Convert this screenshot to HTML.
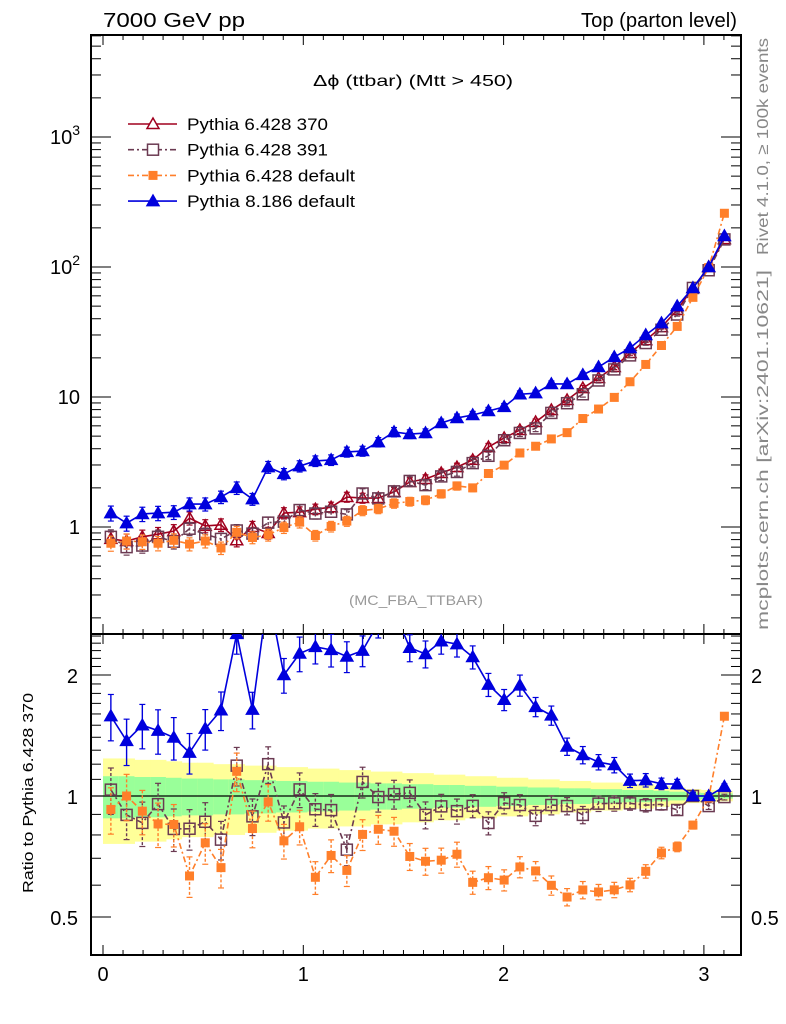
<!DOCTYPE html>
<html><head><meta charset="utf-8"><style>
html,body{margin:0;padding:0;background:#fff;}
svg{display:block;font-family:"Liberation Sans",sans-serif;}
</style></head><body>
<svg id="chart" width="786" height="1024" viewBox="0 0 786 1024" xmlns="http://www.w3.org/2000/svg">
<text x="103" y="27" font-size="20" textLength="142" lengthAdjust="spacingAndGlyphs">7000 GeV pp</text>
<text x="581" y="27" font-size="20" textLength="156" lengthAdjust="spacingAndGlyphs">Top (parton level)</text>
<text x="313" y="86" font-size="16" textLength="200" lengthAdjust="spacingAndGlyphs">Δϕ (ttbar) (Mtt &gt; 450)</text>
<text x="349" y="605" font-size="14" fill="#999" textLength="134" lengthAdjust="spacingAndGlyphs">(MC_FBA_TTBAR)</text>
<text transform="translate(768,255) rotate(-90)" font-size="16" fill="#888" textLength="217" lengthAdjust="spacingAndGlyphs">Rivet 4.1.0, ≥ 100k events</text>
<text transform="translate(768,630) rotate(-90)" font-size="16" fill="#888" textLength="360" lengthAdjust="spacingAndGlyphs">mcplots.cern.ch [arXiv:2401.10621]</text>
<text transform="translate(33,893) rotate(-90)" font-size="15" textLength="200" lengthAdjust="spacingAndGlyphs">Ratio to Pythia 6.428 370</text>
<g id="band"></g>
<g id="axes"></g>
<g id="series"></g>
<g id="legend"></g>
</svg>
<script>
const xCenters = [];
const nBins = 40;
const red = [0.81,0.78,0.84,0.88,0.93,1.17,1.02,1.04,0.79,1.0,0.90,1.28,1.30,1.37,1.42,1.70,1.67,1.67,1.86,2.22,2.34,2.60,2.89,3.28,4.12,4.84,5.57,6.42,7.94,9.49,11.7,14.0,17.0,21.8,27.4,34.5,46.7,69,100,164];
const purple = [0.84,0.70,0.72,0.84,0.77,0.97,0.88,0.81,0.94,0.89,1.08,1.10,1.35,1.27,1.31,1.25,1.81,1.66,1.88,2.26,2.10,2.45,2.65,3.10,3.53,4.65,5.29,5.73,7.54,8.96,10.5,13.4,16.3,20.9,26.0,32.9,43.1,69,94.4,163];
const orange = [0.75,0.78,0.77,0.75,0.79,0.74,0.78,0.69,0.91,0.83,0.87,0.99,1.09,0.86,1.01,1.11,1.34,1.38,1.52,1.57,1.61,1.80,2.07,2.0,2.58,2.99,3.71,4.18,4.76,5.32,6.83,8.08,9.93,13.1,17.8,24.9,34.9,58.4,98.9,259];
const blue = [1.28,1.07,1.26,1.28,1.30,1.50,1.50,1.70,2.0,1.64,2.89,2.56,2.94,3.22,3.28,3.78,3.84,4.5,5.38,5.19,5.28,6.31,6.9,7.27,7.8,8.4,10.5,10.7,12.6,12.6,14.8,17.0,20.3,23.8,30,37,50,69,100,173];
const relErr = [0.24,0.24,0.23,0.23,0.22,0.21,0.21,0.2,0.2,0.19,0.19,0.18,0.18,0.17,0.17,0.16,0.16,0.15,0.15,0.14,0.14,0.13,0.13,0.12,0.12,0.11,0.11,0.10,0.10,0.09,0.09,0.08,0.08,0.07,0.07,0.06,0.05,0.04,0.035,0.03];
const xTicks = [0,1,2,3];
const mainTicks = [1,10,100,1000];
const mainTickLabels = ["1","10","10²","10³"];
const ratioTicks = [0.5,1,2];
const ratioTickLabels = ["0.5","1","2"];

const NS="http://www.w3.org/2000/svg";
const L=91,R=741,T=35,MID=634,B=955;
const X = v => 103 + v*200.3;
const Y = v => 527 - Math.log10(v)*130;
const YR = r => 796 - Math.log2(r)*121;
function mk(tag, attrs, parent){const e=document.createElementNS(NS,tag);for(const k in attrs)e.setAttribute(k,attrs[k]);parent.appendChild(e);return e;}
const binW = Math.PI/nBins;
for(let i=0;i<nBins;i++) xCenters.push((i+0.5)*binW);

// band
const band=document.getElementById('band');
for(let i=0;i<nBins;i++){
  const x0=Math.max(X(i*binW),L+1), x1=Math.min(X((i+1)*binW),R-1);
  const e=relErr[i];
  const y=mk('rect',{x:x0,y:YR(1+e),width:x1-x0+0.5,height:YR(1-e)-YR(1+e),fill:'#ffff99'},band);
  
  
  const g=mk('rect',{x:x0,y:YR(1+e/2),width:x1-x0+0.5,height:YR(1-e/2)-YR(1+e/2),fill:'#99ff99'},band);
  
  
}

// axes
const ax=document.getElementById('axes');
mk('line',{x1:L,y1:YR(1),x2:R,y2:YR(1),stroke:'#000','stroke-width':1.2},ax);
for(const [y0,y1] of [[T,MID],[MID,B]]){
  const fr=mk('rect',{x:L,y:y0,width:R-L,height:y1-y0,fill:'none',stroke:'#000','stroke-width':2},ax);
  
  
  for(let k=0;k<=31;k++){
    const v=k/10, x=X(v); if(x>R) break;
    const len = (k%10===0)?10:5;
    mk('line',{x1:x,y1:y1,x2:x,y2:y1-len,stroke:'#000','stroke-width':1},ax);
    mk('line',{x1:x,y1:y0,x2:x,y2:y0+len,stroke:'#000','stroke-width':1},ax);
  }
}
xTicks.forEach(v=>{const t=mk('text',{x:X(v),y:981,'font-size':20,'text-anchor':'middle'},ax);t.textContent=v;
 
 });
for(let d=-1;d<=3;d++){for(let m=1;m<10;m++){const v=m*Math.pow(10,d);const y=Y(v);if(y<T||y>MID)continue;
 const len=m===1?20:10;
 mk('line',{x1:L,y1:y,x2:L+len,y2:y,stroke:'#000','stroke-width':1},ax);
 mk('line',{x1:R,y1:y,x2:R-len,y2:y,stroke:'#000','stroke-width':1},ax);}}
mainTicks.forEach((v,i)=>{const t=mk('text',{x:80,y:Y(v)+7,'font-size':20,'text-anchor':'end'},ax);
 const lab=mainTickLabels[i];
 if(lab.length>2&&lab.startsWith('10')){t.textContent='10';const s=mk('tspan',{dy:-9,'font-size':14},t);s.textContent=lab==='10²'?'2':'3';}
 else t.textContent=lab;
 
 });
const rMinor=[0.6,0.7,0.8,0.9,1.1,1.2,1.3,1.4,1.5,1.6,1.7,1.8,1.9,2.1,2.2,2.3,2.4,2.5];
rMinor.forEach(v=>{const y=YR(v);mk('line',{x1:L,y1:y,x2:L+10,y2:y,stroke:'#000'},ax);mk('line',{x1:R,y1:y,x2:R-10,y2:y,stroke:'#000'},ax);});
ratioTicks.forEach((v,i)=>{const y=YR(v);mk('line',{x1:L,y1:y,x2:L+20,y2:y,stroke:'#000'},ax);mk('line',{x1:R,y1:y,x2:R-20,y2:y,stroke:'#000'},ax);
 const t=mk('text',{x:78,y:y+8,'font-size':20,'text-anchor':'end'},ax);t.textContent=ratioTickLabels[i];
 
 
 const t2=mk('text',{x:751,y:y+8,'font-size':20},ax);t2.textContent=ratioTickLabels[i];
 
 });

// series
const ser=document.getElementById('series');
const defs=[
 {name:'pythia-6428-370',vals:red,color:'#a0001e',dash:'',marker:'tri-open'},
 {name:'pythia-6428-391',vals:purple,color:'#6b3a52',dash:'6,3,2,3',marker:'sq-open'},
 {name:'pythia-6428-default',vals:orange,color:'#ff7f2a',dash:'6,3,2,3',marker:'sq-fill'},
 {name:'pythia-8186-default',vals:blue,color:'#0000dd',dash:'',marker:'tri-fill'}];
function marker(p,type,x,y,c){
  if(type.startsWith('tri')) return mk('polygon',{points:`${x},${y-6} ${x-6},${y+4.5} ${x+6},${y+4.5}`,fill:type==='tri-fill'?c:'none',stroke:c,'stroke-width':1.5},p);
  if(type==='sq-open') return mk('rect',{x:x-5.5,y:y-5.5,width:11,height:11,fill:'none',stroke:c,'stroke-width':1.5},p);
  return mk('rect',{x:x-4.5,y:y-4.5,width:9,height:9,fill:c},p);
}
function clip(id,y0,y1){const cp=mk('clipPath',{id:id},ser);mk('rect',{x:L,y:y0,width:R-L,height:y1-y0},cp);}
clip('cm',T,MID);clip('cr',MID,B);
defs.forEach(d=>{
  for(const panel of ['main','ratio']){
    if(panel==='ratio'&&d.vals===red) continue;
    const g=mk('g',{'clip-path':panel==='main'?'url(#cm)':'url(#cr)'},ser);
    
    
    const pts=d.vals.map((v,i)=>{const x=X(xCenters[i]);const val=panel==='main'?v:v/red[i];return [x,panel==='main'?Y(val):YR(val),val];});
    const pl=mk('polyline',{points:pts.map(p=>p[0]+','+p[1]).join(' '),fill:'none',stroke:d.color,'stroke-width':1.6,'stroke-dasharray':d.dash},g);
    
    
    pts.forEach((p,i)=>{
      const e=relErr[i]*0.55;
      const fn=panel==='main'?Y:YR;
      const yt=fn(p[2]*(1+e)), yb=fn(p[2]*(1-e));
      mk('line',{x1:p[0],y1:yt,x2:p[0],y2:yb,stroke:d.color,'stroke-width':1.4,'stroke-dasharray':d.dash?'3,2':''},g);
      mk('line',{x1:p[0]-3,y1:yt,x2:p[0]+3,y2:yt,stroke:d.color,'stroke-width':1.2},g);
      mk('line',{x1:p[0]-3,y1:yb,x2:p[0]+3,y2:yb,stroke:d.color,'stroke-width':1.2},g);
      const m=marker(g,d.marker,p[0],p[1],d.color);
      
      
    });
  }
});

// legend
const lg=document.getElementById('legend');
const labels=['Pythia 6.428 370','Pythia 6.428 391','Pythia 6.428 default','Pythia 8.186 default'];
const lw=[141,141,168,168];
defs.forEach((d,i)=>{
  const y=124+i*25.7;
  const g=mk('g',{},lg);
  
  
  mk('line',{x1:128,y1:y,x2:177,y2:y,stroke:d.color,'stroke-width':1.6,'stroke-dasharray':d.dash},g);
  marker(g,d.marker,153,y,d.color).setAttribute('fill',d.marker.endsWith('fill')?d.color:'#fff');
  const t=mk('text',{x:187,y:y+6,'font-size':17,textLength:lw[i],lengthAdjust:'spacingAndGlyphs'},g);t.textContent=labels[i];
});
</script>
</body></html>
